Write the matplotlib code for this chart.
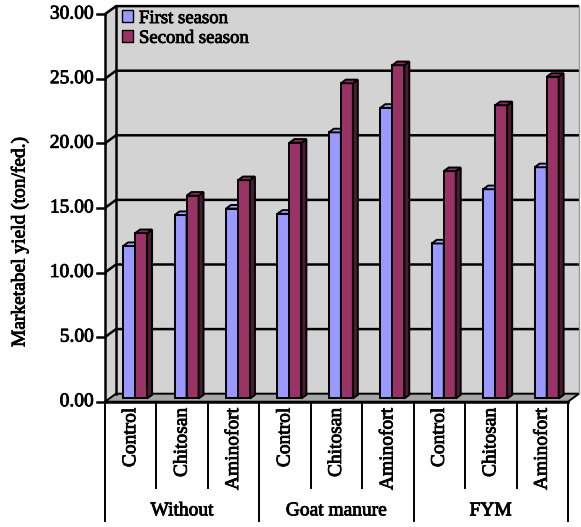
import matplotlib
matplotlib.use("Agg")
import matplotlib.pyplot as plt
import matplotlib.patheffects as pe
from matplotlib.patches import Polygon, Patch

# ---------------------------------------------
# Data: marketable yield (ton/fed.) per treatment
# ---------------------------------------------
groups = ["Without", "Goat manure", "FYM"]
treatments = ["Control", "Chitosan", "Aminofort"]
first_season = [11.8, 14.2, 14.7, 14.3, 20.6, 22.5, 12.0, 16.2, 17.9]
second_season = [12.8, 15.7, 16.9, 19.8, 24.4, 25.8, 17.6, 22.7, 24.9]
y_ticks = [0, 5, 10, 15, 20, 25, 30]

plt.rcParams.update({
    "font.family": "Liberation Serif",
    "font.size": 14,
})
# slightly heavier glyphs
heavy = [pe.withStroke(linewidth=0.6, foreground="black")]

# colours (classic spreadsheet palette)
c_first = "#9999FF"
c_first_side = "#5C5C99"
c_first_top = "#AAAAFF"
c_second = "#993366"
c_second_side = "#4D1A33"
c_second_top = "#8A2E5C"
c_wall = "#D3D3D3"
c_floor = "#A6A6A6"

n_cat = len(first_season)
DX, DY = 0.214, 0.62          # depth of the box (data units)
f0, f1 = 0.40, 0.85           # bar depth range as fraction of box depth
bw = 0.233                    # bar width
lw = 1.4

fig = plt.figure(figsize=(5.81, 5.27), dpi=100)
ax = fig.add_axes([105 / 581, 1 - 401.7 / 527, 474 / 581, 395.6 / 527])
ax.set_xlim(0, n_cat + DX)
ax.set_ylim(0, y_ticks[-1] + DY)
for s in ["top", "right", "bottom", "left"]:
    ax.spines[s].set_visible(False)
ax.set_xticks([])
ax.set_yticks([])
ax.patch.set_visible(False)

ymax = y_ticks[-1]

# back wall, left wall and floor
ax.add_patch(Polygon([(DX, DY), (n_cat + DX, DY), (n_cat + DX, ymax + DY), (DX, ymax + DY)],
                     closed=True, facecolor=c_wall, edgecolor="none", zorder=0, clip_on=False))
ax.add_patch(Polygon([(0, 0), (DX, DY), (DX, ymax + DY), (0, ymax)],
                     closed=True, facecolor=c_wall, edgecolor="none", zorder=0, clip_on=False))
ax.add_patch(Polygon([(0, 0), (n_cat, 0), (n_cat + DX, DY), (DX, DY)],
                     closed=True, facecolor=c_floor, edgecolor="black", lw=lw, zorder=1, clip_on=False))

# gridlines on the back wall and left wall
for v in y_ticks[1:]:
    ax.plot([0, DX, n_cat + DX], [v, v + DY, v + DY], color="black", lw=1.8, zorder=1,
            clip_on=False, solid_capstyle="butt")
ax.plot([DX, DX], [DY, ymax + DY], color="black", lw=1.8, zorder=1, clip_on=False)
ax.plot([n_cat + DX, n_cat + DX], [DY, ymax + DY], color="#999999", lw=1.0, zorder=1, clip_on=False)


def bar3d(x_left, value, face, side, top):
    ox, oy = f0 * DX, f0 * DY
    ddx, ddy = (f1 - f0) * DX, (f1 - f0) * DY
    xl = x_left + ox
    xr = xl + bw
    ax.bar(xl, value, width=bw, bottom=oy, align="edge", color=face,
           edgecolor="black", linewidth=lw, zorder=3)
    ax.add_patch(Polygon([(xr, oy), (xr + ddx, oy + ddy), (xr + ddx, oy + ddy + value), (xr, oy + value)],
                         closed=True, facecolor=side, edgecolor="black", lw=lw, zorder=3,
                         joinstyle="miter"))
    ax.add_patch(Polygon([(xl, oy + value), (xl + ddx, oy + ddy + value),
                          (xr + ddx, oy + ddy + value), (xr, oy + value)],
                         closed=True, facecolor=top, edgecolor="black", lw=lw, zorder=3,
                         joinstyle="miter"))


for i in range(n_cat):
    left = i + 0.5 - bw
    bar3d(left, first_season[i], c_first, c_first_side, c_first_top)
    bar3d(left + bw, second_season[i], c_second, c_second_side, c_second_top)

# front value axis with ticks
ax.plot([0, 0], [0, ymax], color="black", lw=1.8, zorder=4, clip_on=False)
for v in y_ticks:
    ax.plot([-0.16, 0], [v, v], color="black", lw=1.8, zorder=4, clip_on=False)
    ax.text(-0.22, v, f"{v:.2f}", ha="right", va="center", zorder=4, path_effects=heavy)

# front category axis and separators
ax.plot([0, n_cat], [0, 0], color="black", lw=1.8, zorder=4, clip_on=False)
for i in range(n_cat + 1):
    y_end = -9.2 if i % 3 == 0 else -6.7
    ax.plot([i, i], [0, y_end], color="black", lw=1.4, zorder=4, clip_on=False)

for i in range(n_cat):
    ax.text(i + 0.5, -0.45, treatments[i % 3], rotation=90, ha="center", va="top",
            path_effects=heavy)
for g, name in enumerate(groups):
    ax.text(3 * g + 1.5, -8.45, name, ha="center", va="center", path_effects=heavy)

ax.text(-1.66, 12.4, "Marketabel yield (ton/fed.)", rotation=90, ha="center", va="center",
        path_effects=heavy)

handles = [Patch(facecolor=c_first, edgecolor="black", lw=1.0, label="First season"),
           Patch(facecolor=c_second, edgecolor="black", lw=1.0, label="Second season")]
leg = ax.legend(handles=handles, loc="upper left", bbox_to_anchor=(0.036, 0.99), frameon=False,
                handlelength=0.6, handleheight=0.6, handletextpad=0.3, labelspacing=0.15,
                borderpad=0, borderaxespad=0, fontsize=13.5)
for t in leg.get_texts():
    t.set_path_effects(heavy)

fig.savefig("out.png", dpi=100)
